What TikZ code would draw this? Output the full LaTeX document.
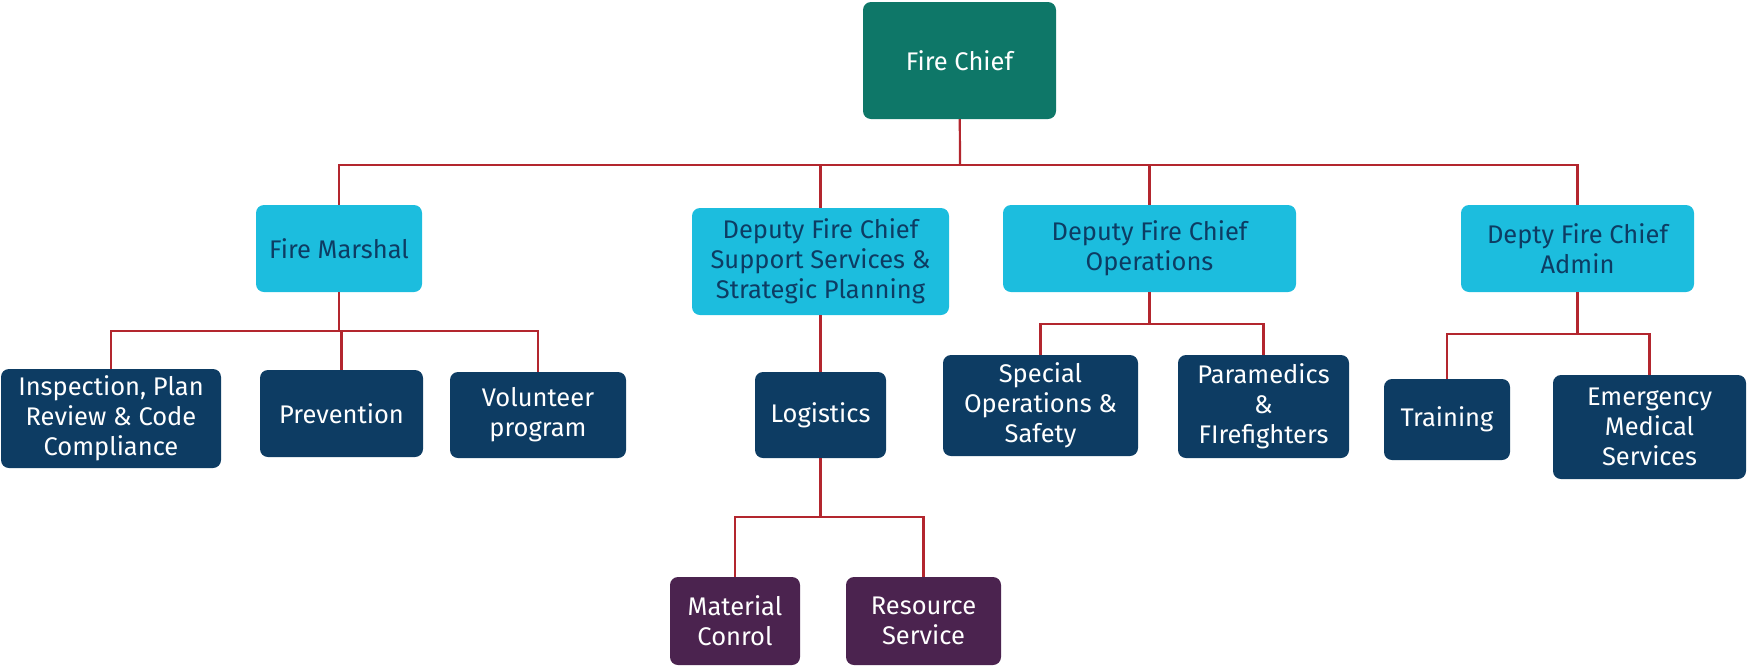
\documentclass[tikz,border=0pt]{standalone}
\usepackage{fontspec}
\setmainfont{Fira Sans}
\definecolor{chiefteal}{HTML}{0E7768}
\definecolor{deputycyan}{HTML}{1CBDDE}
\definecolor{unitnavy}{HTML}{0D3C63}
\definecolor{subpurple}{HTML}{4B234F}
\definecolor{linkred}{HTML}{B3262E}

\begin{document}
\begin{tikzpicture}
[
x=1pt, y=-1pt,
box/.style 2 args={rounded corners=8pt,align=center,inner sep=0pt,
            minimum width=#1,minimum height=#2,
            font=\fontsize{25.5}{30}\selectfont},
chief/.style 2 args={box={#1}{#2},fill=chiefteal,text=white},
deputy/.style 2 args={box={#1}{#2},fill=deputycyan,text=unitnavy},
unit/.style 2 args={box={#1}{#2},fill=unitnavy,text=white},
subunit/.style 2 args={box={#1}{#2},fill=subpurple,text=white},
link/.style={draw=linkred,line width=2.2pt},
]
\useasboundingbox (0,0) rectangle (1747,665);

%Place the nodes
\node[chief={193pt}{117pt}] (fc) at (959.5,60.5) {Fire Chief};
\node[deputy={166pt}{87pt}] (fm) at (339,248.5) {Fire Marshal};
\node[deputy={257pt}{107pt}] (dss) at (820.5,261.5) {Deputy Fire Chief\\Support Services \&\\Strategic Planning};
\node[deputy={293pt}{87pt}] (dops) at (1149.5,248.5) {Deputy Fire Chief\\Operations};
\node[deputy={233pt}{87pt}] (dadm) at (1577.5,248.5) {Depty Fire Chief\\Admin};
\node[unit={220pt}{99pt}] (insp) at (111,418.5) {Inspection, Plan\\Review \& Code\\Compliance};
\node[unit={163pt}{87pt}] (prev) at (341.5,413.5) {Prevention};
\node[unit={176pt}{86pt}] (vol) at (538,415) {Volunteer\\program};
\node[unit={131pt}{86pt}] (logi) at (820.5,415) {Logistics};
\node[unit={195pt}{101pt}] (spec) at (1040.5,405.5) {Special\\Operations \&\\Safety};
\node[unit={171pt}{103pt}] (para) at (1263.5,406.5) {Paramedics\\\&\\FIrefighters};
\node[unit={126pt}{81pt}] (train) at (1447,419.5) {Training};
\node[unit={193pt}{104pt}] (ems) at (1649.5,427) {Emergency\\Medical\\Services};
\node[subunit={130pt}{88pt}] (mat) at (735,621) {Material\\Conrol};
\node[subunit={155pt}{88pt}] (res) at (923.5,621) {Resource\\Service};

%Bus points
\coordinate (fcbus) at (960,165);
\coordinate (fmbus) at (339,331);
\coordinate (dopsbus) at (1149.5,324);
\coordinate (dadmbus) at (1577.5,334);
\coordinate (logibus) at (820.5,517);

%Draw the connections
\draw[link] (fc) -- (fcbus);
\foreach \n in {fm,dss,dops,dadm} \draw[link] (fcbus) -| (\n);
\draw[link] (fm) -- (fmbus);
\foreach \n in {insp,prev,vol} \draw[link] (fmbus) -| (\n);
\draw[link] (dss) -- (logi);
\draw[link] (logi) -- (logibus);
\foreach \n in {mat,res} \draw[link] (logibus) -| (\n);
\draw[link] (dops) -- (dopsbus);
\foreach \n in {spec,para} \draw[link] (dopsbus) -| (\n);
\draw[link] (dadm) -- (dadmbus);
\foreach \n in {train,ems} \draw[link] (dadmbus) -| (\n);
\end{tikzpicture}
\end{document}
